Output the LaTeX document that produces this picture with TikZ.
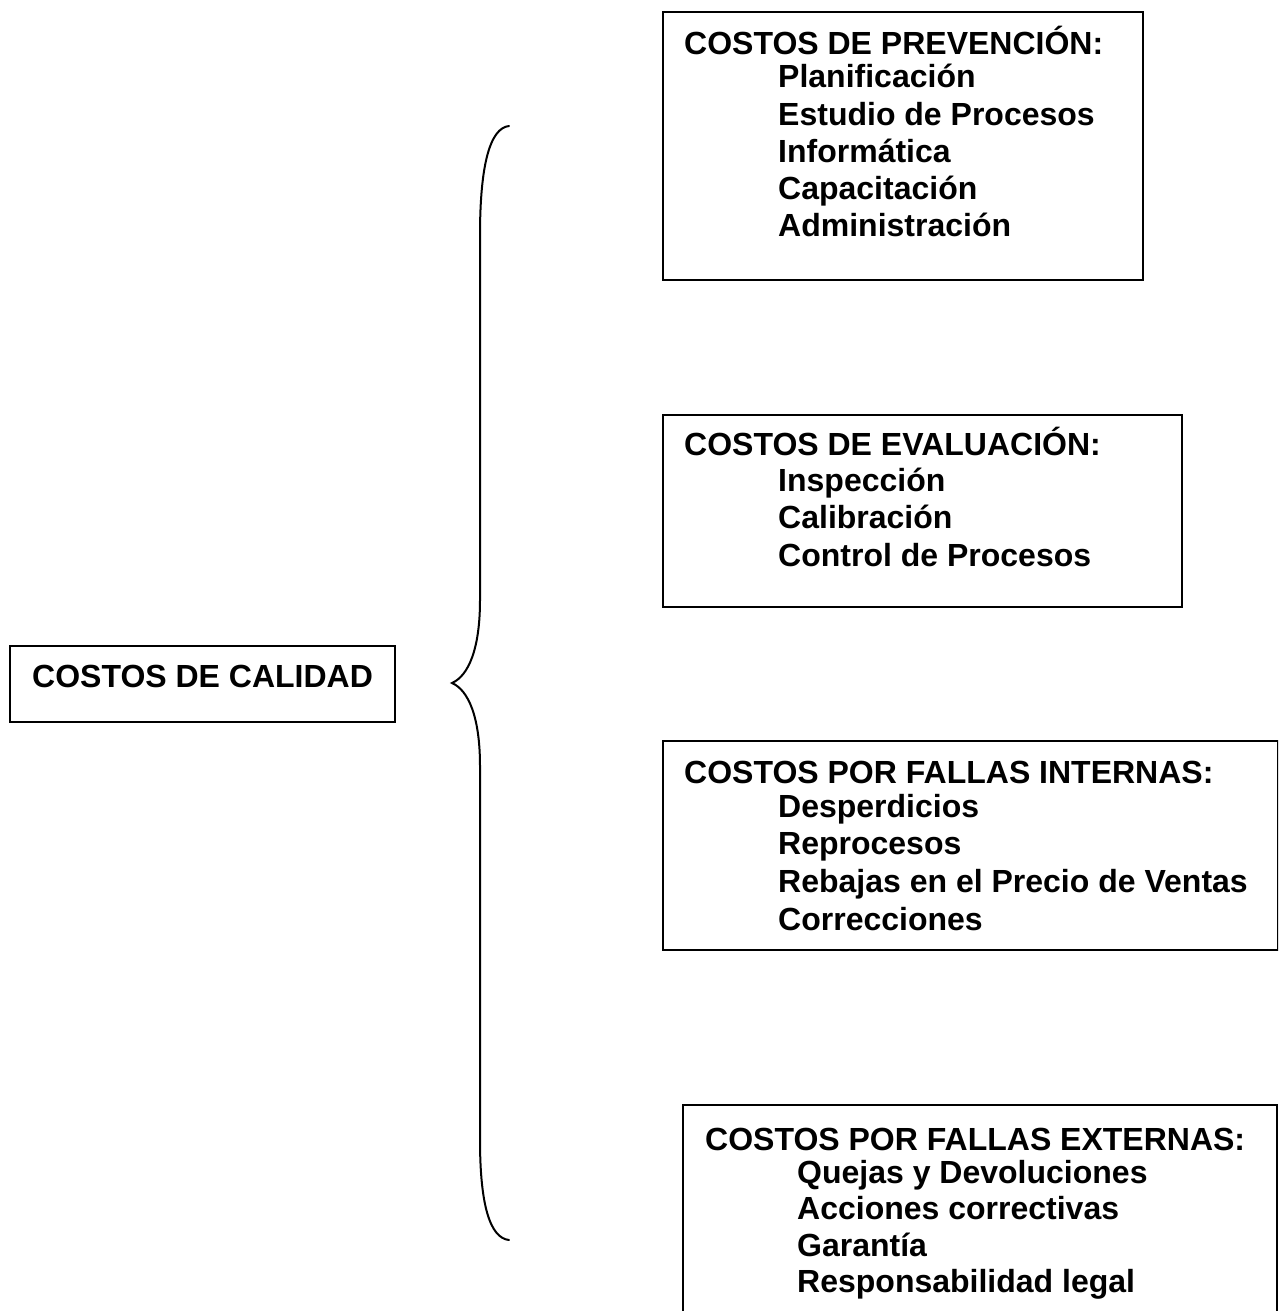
\documentclass[tikz,border=0pt]{standalone}
\usepackage{fontspec}
\setmainfont{Liberation Sans}
\begin{document}
\begin{tikzpicture}[x=1pt,y=-1pt,
  box/.style={draw,line width=2pt,inner sep=0pt,anchor=north west},
  lbl/.style={inner sep=0pt,anchor=base west,font=\bfseries\fontsize{32}{37}\selectfont},
  bracepath/.style={line width=2pt,line cap=round}]
\clip (0,0) rectangle (1278,1311);
\fill[white] (0,0) rectangle (1278,1311);

% frames
\node[box,minimum width=385pt,minimum height=76pt]  (calidad) at (9,645) {};
\node[box,minimum width=480pt,minimum height=268pt] (prev)    at (662,11) {};
\node[box,minimum width=519pt,minimum height=192pt] (eval)    at (662,414) {};
\node[box,minimum width=615pt,minimum height=209pt] (fint)    at (662,740) {};
\node[box,minimum width=594pt,minimum height=300pt] (fext)    at (682,1104) {};

% main label
\node[lbl] (tcal) at (32,687) {COSTOS DE CALIDAD};

% prevention costs
\node[lbl] (tprev) at (684,55) {COSTOS DE PREVENCIÓN:};
\foreach \t [count=\i] in {Planificación,Estudio de Procesos,Informática,Capacitación,Administración}
  \node[lbl] (prev\i) at (778,{88+(\i-1)*37}) {\t};

% appraisal costs
\node[lbl] (teval) at (684,455) {COSTOS DE EVALUACIÓN:};
\foreach \t [count=\i] in {Inspección,Calibración,Control de Procesos}
  \node[lbl] (eval\i) at (778,{491+(\i-1)*37.5}) {\t};

% internal failure costs
\node[lbl] (tfint) at (684,783) {COSTOS POR FALLAS INTERNAS:};
\foreach \t [count=\i] in {Desperdicios,Reprocesos,Rebajas en el Precio de Ventas,Correcciones}
  \node[lbl] (fint\i) at (778,{817+(\i-1)*37.7}) {\t};

% external failure costs
\node[lbl] (tfext) at (705,1150) {COSTOS POR FALLAS EXTERNAS:};
\foreach \t [count=\i] in {Quejas y Devoluciones,Acciones correctivas,Garantía,Responsabilidad legal}
  \node[lbl] (fext\i) at (797,{1183+(\i-1)*36.5}) {\t};

% curly brace
\coordinate (btop) at (509,126);
\coordinate (btip) at (452,683);
\coordinate (bbot) at (509,1240);
\draw[bracepath] (btop) .. controls (490,128) and (480,165) .. (480,235)
  -- (480,600) .. controls (480,650) and (468,676) .. (btip)
  .. controls (468,690) and (480,716) .. (480,766)
  -- (480,1140) .. controls (480,1205) and (490,1238) .. (bbot);
\end{tikzpicture}
\end{document}
